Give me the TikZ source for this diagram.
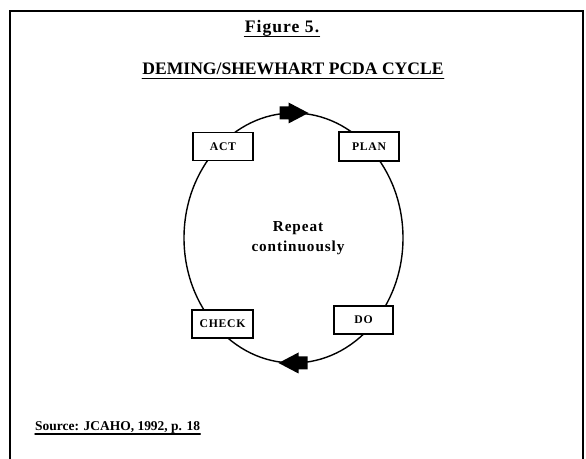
\documentclass[tikz,border=0pt]{standalone}
\usepackage{fontspec}
\setmainfont{Liberation Serif}
\newfontfamily\spaced[LetterSpace=6]{Liberation Serif}
\usepackage{tikz}
\usetikzlibrary{decorations.markings}

\begin{document}
\begin{tikzpicture}[x=0.03cm, y=0.03cm, line cap=round,
  every node/.style={inner sep=0pt, align=center},
  stage/.style={draw, fill=white, line width=1pt, minimum width=1.8cm, minimum height=0.82cm, font=\spaced\bfseries\fontsize{10}{12}\selectfont},
  heading/.style={anchor=base, font=\bfseries\fontsize{15}{18}\selectfont},
  uline/.style={line width=1.2pt},
  blockarrow/.style={fill=black}]
\useasboundingbox (0,0) rectangle (586,459);
% frame, open at the bottom
\draw[line width=1.8pt] (10,-5) -- (10,448) -- (583,448) -- (583,-5);
% headings
\node[heading, font=\spaced\bfseries\fontsize{15}{18}\selectfont] (fig) at (282,426) {Figure 5.};
\node[heading] (title) at (293,384) {DEMING/SHEWHART PCDA CYCLE};
\draw[uline] ([yshift=-3]fig.base west) -- ([yshift=-3]fig.base east);
\draw[uline] ([yshift=-3]title.base west) -- ([yshift=-3]title.base east);
% the cycle
\draw[line width=1.2pt, postaction={decorate}, decoration={markings,
  mark=at position 0.25 with {\fill[blockarrow] (-15,0) -- (5,10.5) -- (5,6.5) -- (14,6.5) -- (14,-6.5) -- (5,-6.5) -- (5,-10.5) -- cycle;},
  mark=at position 0.75 with {\fill[blockarrow] (-15,0) -- (5,10.5) -- (5,6.5) -- (14,6.5) -- (14,-6.5) -- (5,-6.5) -- (5,-10.5) -- cycle;}}]
  (293.5,221) ellipse [x radius=109.5, y radius=125];
\node[stage] (act) at (223,312.5) {ACT};
\node[stage, minimum height=0.87cm] (plan) at (369,312.5) {PLAN};
\node[stage, minimum width=1.83cm, minimum height=0.84cm] (check) at (222.5,135) {CHECK};
\node[stage, minimum width=1.77cm, minimum height=0.84cm] (do) at (363.5,139) {DO};
\node[font=\spaced\bfseries\fontsize{13}{16.5}\selectfont] (repeat) at (298,221) {Repeat\\continuously};
% source
\node[anchor=base west, font=\bfseries\fontsize{11.5}{14}\selectfont] (source) at (35,28) {Source: JCAHO, 1992, p. 18};
\draw[uline] ([yshift=-2.5]source.base west) -- ([yshift=-2.5]source.base east);
\end{tikzpicture}
\end{document}
